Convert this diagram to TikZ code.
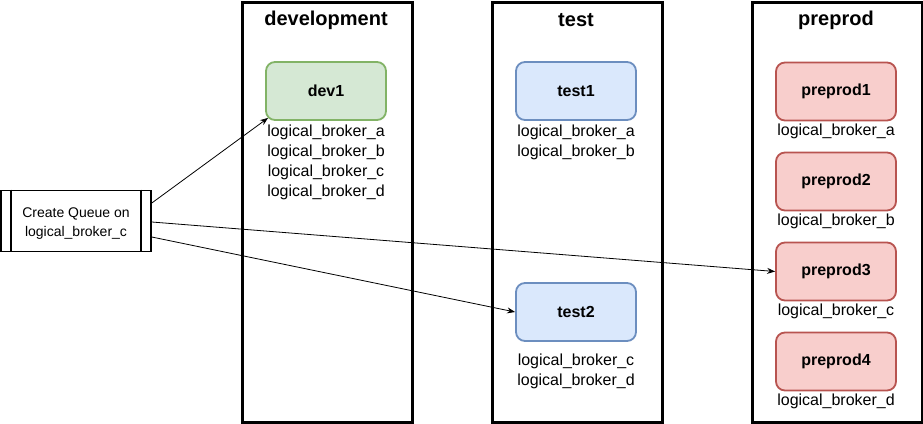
\documentclass[tikz,border=0pt]{standalone}
\usepackage{fontspec}
\setmainfont{Liberation Sans}
\usetikzlibrary{arrows.meta}
\definecolor{gfill}{HTML}{D5E8D4}\definecolor{gline}{HTML}{82B366}
\definecolor{bfill}{HTML}{DAE8FC}\definecolor{bline}{HTML}{6C8EBF}
\definecolor{rfill}{HTML}{F8CECC}\definecolor{rline}{HTML}{B85450}
\begin{document}
\begin{tikzpicture}[x=1pt,y=-1pt,
  env/.style={draw=black,line width=2.5pt,minimum width=170pt,minimum height=420pt,anchor=north west,inner sep=0pt},
  title/.style={font=\fontsize{20}{22}\selectfont\bfseries},
  srv/.style={draw=#1line,fill=#1fill,line width=1.8pt,rounded corners=9pt,minimum width=120pt,minimum height=58pt,font=\fontsize{16}{18}\selectfont\bfseries,inner sep=0pt},
  lbl/.style={font=\fontsize{16}{20}\selectfont,align=center,inner sep=0pt},
  arr/.style={-{Stealth[length=8pt,width=6pt]},line width=0.8pt}]
\useasboundingbox (0,0) rectangle (923,423);
% environments
\node[env] (denv) at (241,1) {};
\node[env] (tenv) at (491,1) {};
\node[env] (penv) at (751,1) {};
\node[title] (dt) at (326,20) {development};
\node[title] (tt) at (576,20) {test};
\node[title] (pt) at (836,20) {preprod};
% servers
\node[srv=g] (dev1) at (326,91) {dev1};
\node[lbl] (dl) at (326,162) {logical\_broker\_a\\logical\_broker\_b\\logical\_broker\_c\\logical\_broker\_d};
\node[srv=b] (test1) at (576,91) {test1};
\node[lbl] (t1l) at (576,142) {logical\_broker\_a\\logical\_broker\_b};
\node[srv=b] (test2) at (576,312) {test2};
\node[lbl] (t2l) at (576,371) {logical\_broker\_c\\logical\_broker\_d};
\node[srv=r] (p1) at (836,91.5) {preprod1};
\node[lbl] (p1l) at (836,131) {logical\_broker\_a};
\node[srv=r] (p2) at (836,181.5) {preprod2};
\node[lbl] (p2l) at (836,221) {logical\_broker\_b};
\node[srv=r] (p3) at (836,271.5) {preprod3};
\node[lbl] (p3l) at (836,311) {logical\_broker\_c};
\node[srv=r] (p4) at (836,361.5) {preprod4};
\node[lbl] (p4l) at (836,401) {logical\_broker\_d};
% process box
\node[draw=black,line width=1.6pt,minimum width=150pt,minimum height=61pt,inner sep=0pt] (proc) at (76,221) {};
\draw[line width=1.6pt] ([xshift=11pt]proc.north west) -- ([xshift=11pt]proc.south west);
\draw[line width=1.6pt] ([xshift=-11pt]proc.north east) -- ([xshift=-11pt]proc.south east);
\node[font=\fontsize{14}{19}\selectfont,align=center,inner sep=0pt] (ptxt) at (76,223.5) {Create Queue on\\logical\_broker\_c};
% arrows
\coordinate (a1) at ([yshift=18pt]proc.east);
\coordinate (a2) at ([yshift=-1pt]proc.east);
\coordinate (a3) at ([yshift=-16pt]proc.east);
\draw[arr] (a1) -- ([shift={(3pt,3pt)}]dev1.south west);
\draw[arr] (a2) -- (p3.west);
\draw[arr] (a3) -- (test2.west);
\end{tikzpicture}
\end{document}
